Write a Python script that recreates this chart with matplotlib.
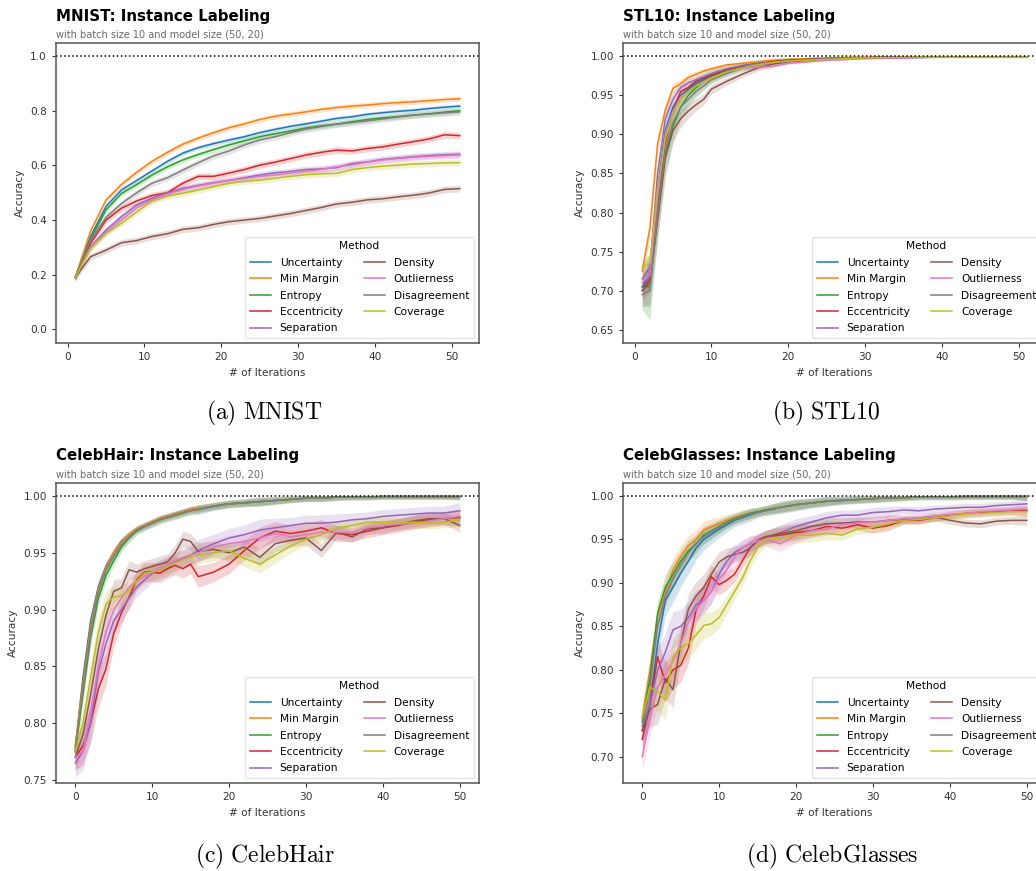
import numpy as np
import matplotlib
matplotlib.use('Agg')
import matplotlib.pyplot as plt

plt.rcParams['mathtext.fontset'] = 'cm'

methods = ['Uncertainty', 'Min Margin', 'Entropy', 'Eccentricity', 'Separation',
           'Density', 'Outlierness', 'Disagreement', 'Coverage']
colors = ['#1f77b4', '#ff7f0e', '#2ca02c', '#d62728', '#9467bd',
          '#8c564b', '#e377c2', '#7f7f7f', '#bcbd22']

# ---- MNIST ----
mnist_iter = [1, 3, 5, 7, 9, 11, 13, 15, 17, 19, 21, 23, 25, 27, 29, 31, 33, 35, 37, 39, 41, 43, 45, 47, 49, 51]
mnist_uncertainty = [0.19, 0.34, 0.45, 0.51, 0.545, 0.58, 0.615, 0.645, 0.665, 0.68, 0.693, 0.705, 0.72, 0.732, 0.743, 0.752, 0.762, 0.772, 0.778, 0.787, 0.793, 0.798, 0.802, 0.808, 0.813, 0.817]
mnist_min_margin = [0.19, 0.36, 0.473, 0.53, 0.575, 0.615, 0.648, 0.678, 0.70, 0.72, 0.738, 0.752, 0.768, 0.78, 0.788, 0.796, 0.805, 0.812, 0.817, 0.821, 0.826, 0.83, 0.833, 0.837, 0.841, 0.844]
mnist_entropy = [0.19, 0.33, 0.437, 0.497, 0.53, 0.565, 0.595, 0.62, 0.64, 0.658, 0.675, 0.69, 0.705, 0.716, 0.726, 0.737, 0.745, 0.751, 0.76, 0.768, 0.774, 0.779, 0.784, 0.789, 0.795, 0.80]
mnist_eccentricity = [0.19, 0.315, 0.40, 0.443, 0.47, 0.49, 0.50, 0.535, 0.56, 0.56, 0.572, 0.585, 0.601, 0.612, 0.625, 0.638, 0.648, 0.656, 0.653, 0.662, 0.668, 0.678, 0.687, 0.697, 0.712, 0.709]
mnist_separation = [0.19, 0.302, 0.363, 0.412, 0.455, 0.48, 0.50, 0.516, 0.527, 0.537, 0.545, 0.555, 0.565, 0.573, 0.578, 0.585, 0.587, 0.592, 0.607, 0.613, 0.622, 0.627, 0.632, 0.636, 0.639, 0.641]
mnist_density = [0.19, 0.266, 0.29, 0.317, 0.325, 0.34, 0.35, 0.366, 0.372, 0.384, 0.394, 0.40, 0.406, 0.415, 0.424, 0.435, 0.446, 0.459, 0.465, 0.474, 0.478, 0.485, 0.491, 0.499, 0.512, 0.515]
mnist_outlierness = [0.19, 0.30, 0.355, 0.40, 0.445, 0.475, 0.495, 0.512, 0.525, 0.535, 0.545, 0.552, 0.56, 0.565, 0.572, 0.578, 0.585, 0.595, 0.602, 0.612, 0.62, 0.625, 0.63, 0.633, 0.636, 0.638]
mnist_disagreement = [0.19, 0.327, 0.41, 0.46, 0.50, 0.535, 0.555, 0.583, 0.61, 0.635, 0.653, 0.675, 0.693, 0.705, 0.72, 0.733, 0.742, 0.751, 0.757, 0.763, 0.77, 0.777, 0.784, 0.788, 0.792, 0.796]
mnist_coverage = [0.19, 0.296, 0.351, 0.388, 0.43, 0.47, 0.488, 0.498, 0.51, 0.522, 0.535, 0.542, 0.546, 0.553, 0.56, 0.566, 0.569, 0.571, 0.585, 0.592, 0.597, 0.601, 0.605, 0.607, 0.609, 0.61]
mnist_spread = [0.008, 0.01, 0.01, 0.012, 0.012, 0.012, 0.012, 0.012, 0.012]

# ---- STL10 ----
stl_iter = [1, 2, 3, 4, 5, 6, 7, 8, 9, 10, 12, 14, 16, 18, 20, 25, 30, 35, 40, 45, 51]
stl_uncertainty = [0.705, 0.72, 0.83, 0.905, 0.935, 0.95, 0.958, 0.965, 0.97, 0.975, 0.982, 0.988, 0.991, 0.993, 0.995, 0.997, 0.998, 0.999, 0.999, 0.999, 0.999]
stl_min_margin = [0.725, 0.78, 0.888, 0.931, 0.959, 0.965, 0.973, 0.977, 0.981, 0.984, 0.989, 0.991, 0.993, 0.995, 0.996, 0.998, 0.999, 0.999, 0.999, 0.999, 0.999]
stl_entropy = [0.705, 0.705, 0.80, 0.875, 0.91, 0.935, 0.95, 0.96, 0.968, 0.975, 0.982, 0.987, 0.99, 0.993, 0.995, 0.997, 0.998, 0.999, 0.999, 0.999, 0.999]
stl_eccentricity = [0.70, 0.715, 0.81, 0.89, 0.93, 0.955, 0.96, 0.968, 0.972, 0.976, 0.983, 0.987, 0.99, 0.993, 0.995, 0.997, 0.998, 0.999, 0.999, 0.999, 0.999]
stl_separation = [0.715, 0.73, 0.85, 0.92, 0.945, 0.96, 0.966, 0.97, 0.974, 0.978, 0.984, 0.988, 0.99, 0.992, 0.994, 0.996, 0.998, 0.998, 0.999, 0.999, 0.999]
stl_density = [0.70, 0.71, 0.79, 0.87, 0.905, 0.92, 0.93, 0.938, 0.945, 0.958, 0.968, 0.977, 0.985, 0.99, 0.993, 0.996, 0.998, 0.999, 0.999, 0.999, 0.999]
stl_outlierness = [0.71, 0.72, 0.82, 0.90, 0.93, 0.948, 0.955, 0.962, 0.968, 0.972, 0.98, 0.985, 0.986, 0.987, 0.991, 0.995, 0.997, 0.998, 0.999, 0.999, 0.999]
stl_disagreement = [0.695, 0.70, 0.80, 0.88, 0.915, 0.935, 0.945, 0.955, 0.962, 0.97, 0.978, 0.985, 0.989, 0.992, 0.994, 0.997, 0.998, 0.999, 0.999, 0.999, 0.999]
stl_coverage = [0.73, 0.735, 0.83, 0.895, 0.925, 0.945, 0.955, 0.962, 0.967, 0.972, 0.98, 0.985, 0.989, 0.992, 0.994, 0.996, 0.998, 0.999, 0.999, 0.999, 0.999]
stl_spread = [0.012, 0.01, 0.03, 0.012, 0.012, 0.02, 0.012, 0.015, 0.01]
stl_shape = [1.0, 1.4, 1.2, 1.0, 0.7, 0.55, 0.45, 0.4, 0.35, 0.3, 0.25, 0.2, 0.2, 0.15, 0.12, 0.08, 0.05, 0.04, 0.03, 0.03, 0.03]

# ---- CelebHair / CelebGlasses share iterations ----
celeb_iter = [0, 1, 2, 3, 4, 5, 6, 7, 8, 9, 10, 11, 12, 13, 14, 15, 16,
              18, 20, 22, 24, 26, 28, 30, 32, 34, 36, 38, 40, 42, 44, 46, 48, 50]

hair_uncertainty = [0.778, 0.84, 0.89, 0.92, 0.938, 0.95, 0.96, 0.966, 0.971, 0.974, 0.977, 0.98, 0.982, 0.984, 0.986, 0.988, 0.989,
                    0.991, 0.993, 0.994, 0.995, 0.996, 0.997, 0.998, 0.998, 0.999, 0.999, 0.999, 0.9995, 0.9995, 0.9995, 0.9995, 0.9995, 0.9995]
hair_min_margin = [0.78, 0.835, 0.885, 0.918, 0.937, 0.95, 0.959, 0.966, 0.971, 0.974, 0.977, 0.98, 0.982, 0.984, 0.986, 0.988, 0.989,
                   0.991, 0.993, 0.994, 0.995, 0.996, 0.997, 0.998, 0.998, 0.999, 0.999, 0.999, 0.9995, 0.9995, 0.9995, 0.9995, 0.9995, 0.9995]
hair_entropy = [0.775, 0.825, 0.875, 0.91, 0.93, 0.943, 0.955, 0.963, 0.969, 0.973, 0.976, 0.979, 0.981, 0.983, 0.985, 0.987, 0.988,
                0.991, 0.993, 0.994, 0.995, 0.996, 0.997, 0.998, 0.998, 0.999, 0.999, 0.999, 0.9995, 0.9995, 0.9995, 0.9995, 0.9995, 0.9995]
hair_eccentricity = [0.77, 0.78, 0.80, 0.83, 0.848, 0.879, 0.897, 0.911, 0.926, 0.933, 0.933, 0.932, 0.936, 0.939, 0.936, 0.94, 0.929,
                     0.933, 0.94, 0.952, 0.963, 0.969, 0.967, 0.969, 0.972, 0.967, 0.966, 0.969, 0.972, 0.974, 0.977, 0.979, 0.98, 0.981]
hair_separation = [0.765, 0.775, 0.80, 0.845, 0.87, 0.89, 0.90, 0.91, 0.92, 0.926, 0.932, 0.935, 0.938, 0.942, 0.945, 0.948, 0.952,
                   0.958, 0.963, 0.966, 0.97, 0.972, 0.974, 0.976, 0.976, 0.977, 0.979, 0.98, 0.982, 0.983, 0.984, 0.985, 0.985, 0.987]
hair_density = [0.77, 0.79, 0.825, 0.865, 0.895, 0.916, 0.919, 0.935, 0.933, 0.936, 0.938, 0.94, 0.942, 0.95, 0.962, 0.96, 0.951,
                0.953, 0.95, 0.955, 0.946, 0.958, 0.961, 0.963, 0.952, 0.968, 0.964, 0.971, 0.972, 0.975, 0.978, 0.98, 0.98, 0.974]
hair_outlierness = [0.77, 0.775, 0.81, 0.85, 0.88, 0.90, 0.91, 0.92, 0.925, 0.929, 0.933, 0.937, 0.94, 0.943, 0.946, 0.948, 0.95,
                    0.955, 0.958, 0.96, 0.963, 0.967, 0.964, 0.966, 0.968, 0.968, 0.968, 0.972, 0.974, 0.975, 0.976, 0.978, 0.98, 0.982]
hair_disagreement = [0.775, 0.83, 0.88, 0.915, 0.935, 0.947, 0.957, 0.964, 0.97, 0.973, 0.976, 0.979, 0.981, 0.983, 0.985, 0.987, 0.988,
                     0.991, 0.993, 0.994, 0.995, 0.996, 0.997, 0.998, 0.998, 0.999, 0.999, 0.999, 0.9995, 0.9995, 0.9995, 0.9995, 0.9995, 0.9995]
hair_coverage = [0.775, 0.80, 0.84, 0.88, 0.905, 0.911, 0.912, 0.917, 0.925, 0.932, 0.933, 0.935, 0.938, 0.941, 0.944, 0.946, 0.948,
                 0.95, 0.952, 0.945, 0.94, 0.948, 0.956, 0.962, 0.966, 0.972, 0.974, 0.977, 0.977, 0.976, 0.977, 0.976, 0.977, 0.979]
hair_spread = [0.004, 0.004, 0.005, 0.012, 0.012, 0.01, 0.01, 0.005, 0.01]
hair_shape = [1.0, 1.3, 1.4, 1.4, 1.2, 1.0, 0.9, 0.8, 0.7, 0.7, 0.7, 0.7, 0.7, 0.7, 0.7, 0.7, 0.8,
              0.7, 0.7, 0.7, 0.8, 0.7, 0.6, 0.6, 0.6, 0.6, 0.5, 0.5, 0.5, 0.5, 0.5, 0.5, 0.5, 0.6]

glass_uncertainty = [0.73, 0.76, 0.83, 0.88, 0.895, 0.911, 0.925, 0.94, 0.95, 0.956, 0.962, 0.967, 0.972, 0.975, 0.978, 0.981, 0.983,
                     0.987, 0.99, 0.992, 0.994, 0.995, 0.996, 0.997, 0.998, 0.998, 0.999, 0.999, 0.999, 0.9995, 0.9995, 0.9995, 0.9995, 0.9995]
glass_min_margin = [0.745, 0.80, 0.861, 0.89, 0.915, 0.93, 0.943, 0.95, 0.961, 0.965, 0.968, 0.972, 0.975, 0.978, 0.98, 0.982, 0.984,
                    0.987, 0.99, 0.992, 0.994, 0.995, 0.996, 0.997, 0.998, 0.998, 0.999, 0.999, 0.999, 0.9995, 0.9995, 0.9995, 0.9995, 0.9995]
glass_entropy = [0.74, 0.79, 0.865, 0.895, 0.91, 0.925, 0.937, 0.945, 0.955, 0.96, 0.965, 0.97, 0.974, 0.977, 0.98, 0.982, 0.984,
                 0.987, 0.99, 0.992, 0.994, 0.995, 0.996, 0.997, 0.998, 0.998, 0.999, 0.999, 0.999, 0.9995, 0.9995, 0.9995, 0.9995, 0.9995]
glass_eccentricity = [0.72, 0.76, 0.815, 0.785, 0.80, 0.805, 0.825, 0.869, 0.885, 0.907, 0.898, 0.903, 0.91, 0.925, 0.94, 0.949, 0.953,
                      0.955, 0.958, 0.96, 0.965, 0.963, 0.967, 0.963, 0.966, 0.972, 0.972, 0.975, 0.978, 0.98, 0.981, 0.982, 0.983, 0.983]
glass_separation = [0.73, 0.76, 0.80, 0.82, 0.846, 0.85, 0.86, 0.875, 0.88, 0.89, 0.91, 0.925, 0.935, 0.94, 0.945, 0.948, 0.952,
                    0.958, 0.965, 0.97, 0.975, 0.978, 0.978, 0.981, 0.982, 0.984, 0.983, 0.985, 0.986, 0.987, 0.987, 0.989, 0.99, 0.991]
glass_density = [0.73, 0.755, 0.76, 0.79, 0.777, 0.83, 0.87, 0.885, 0.895, 0.91, 0.924, 0.93, 0.933, 0.935, 0.94, 0.948, 0.953,
                 0.957, 0.96, 0.965, 0.968, 0.969, 0.97, 0.97, 0.972, 0.973, 0.973, 0.976, 0.972, 0.969, 0.968, 0.971, 0.972, 0.972]
glass_outlierness = [0.70, 0.745, 0.78, 0.795, 0.81, 0.83, 0.855, 0.87, 0.88, 0.89, 0.905, 0.915, 0.93, 0.94, 0.945, 0.948, 0.95,
                     0.945, 0.955, 0.96, 0.962, 0.967, 0.969, 0.97, 0.972, 0.974, 0.975, 0.977, 0.979, 0.98, 0.982, 0.983, 0.984, 0.985]
glass_disagreement = [0.735, 0.78, 0.85, 0.885, 0.905, 0.92, 0.935, 0.945, 0.953, 0.959, 0.964, 0.969, 0.973, 0.976, 0.979, 0.981, 0.983,
                      0.987, 0.99, 0.992, 0.994, 0.995, 0.996, 0.997, 0.998, 0.998, 0.999, 0.999, 0.999, 0.9995, 0.9995, 0.9995, 0.9995, 0.9995]
glass_coverage = [0.745, 0.78, 0.775, 0.765, 0.815, 0.825, 0.83, 0.84, 0.851, 0.853, 0.86, 0.875, 0.89, 0.905, 0.925, 0.94, 0.95,
                  0.952, 0.955, 0.955, 0.957, 0.955, 0.962, 0.964, 0.968, 0.972, 0.973, 0.975, 0.977, 0.979, 0.98, 0.981, 0.982, 0.982]
glass_spread = [0.012, 0.01, 0.01, 0.015, 0.015, 0.015, 0.015, 0.008, 0.015]
glass_shape = [1.0, 1.4, 1.5, 1.5, 1.4, 1.3, 1.2, 1.1, 1.0, 0.9, 0.8, 0.7, 0.6, 0.6, 0.6, 0.5, 0.5,
               0.6, 0.6, 0.5, 0.5, 0.4, 0.4, 0.4, 0.4, 0.3, 0.3, 0.3, 0.3, 0.3, 0.3, 0.3, 0.3, 0.4]


def draw_panel(ax, title, iters, series, spread, shape, ylim, yticks):
    x = np.array(iters)
    sh = np.ones(len(x)) if shape is None else np.array(shape)
    for name, col, vals, s in zip(methods, colors, series, spread):
        y = np.array(vals)
        ax.fill_between(x, y - s * sh, np.minimum(y + s * sh, 1.0005), color=col, alpha=0.2, lw=0)
        ax.plot(x, y, color=col, lw=1.1, label=name)
    ax.axhline(1.0, color='black', ls=':', lw=1.1)
    ax.set_xlim(-1.5 if x[0] == 1 else -2.5, 53.5 if x[0] == 1 else 52.5)
    ax.set_ylim(*ylim)
    ax.set_yticks(yticks)
    ax.set_xticks([0, 10, 20, 30, 40, 50])
    ax.tick_params(labelsize=7.6, colors='#333333', width=0.8, length=3)
    for sp in ax.spines.values():
        sp.set_color('#555555')
        sp.set_linewidth(1.1)
    ax.set_xlabel('# of Iterations', fontsize=7.6, color='#333333')
    ax.set_ylabel('Accuracy', fontsize=7.6, color='#333333')
    ax.text(0, 1.09, title, transform=ax.transAxes, fontsize=10.8,
            fontweight='bold', va='center', ha='left')
    ax.text(0, 1.027, 'with batch size 10 and model size (50, 20)', transform=ax.transAxes,
            fontsize=7, color='#666666', va='center', ha='left')
    leg = ax.legend(title='Method', ncol=2, loc='lower right', fontsize=7.7,
                    title_fontsize=7.7, labelspacing=0.6, frameon=True)
    leg.get_frame().set_edgecolor('#dddddd')


W, H = 1036, 871
fig = plt.figure(figsize=(W / 100, H / 100), dpi=100)

ax_a = fig.add_axes([56 / W, 1 - 343 / H, 423 / W, 300 / H])
ax_b = fig.add_axes([623 / W, 1 - 343 / H, 423 / W, 300 / H])
ax_c = fig.add_axes([56 / W, 1 - 783 / H, 423 / W, 300 / H])
ax_d = fig.add_axes([623 / W, 1 - 783 / H, 423 / W, 300 / H])

draw_panel(ax_a, 'MNIST: Instance Labeling', mnist_iter,
           [mnist_uncertainty, mnist_min_margin, mnist_entropy, mnist_eccentricity, mnist_separation,
            mnist_density, mnist_outlierness, mnist_disagreement, mnist_coverage],
           mnist_spread, None, (-0.05, 1.048), [0.0, 0.2, 0.4, 0.6, 0.8, 1.0])
draw_panel(ax_b, 'STL10: Instance Labeling', stl_iter,
           [stl_uncertainty, stl_min_margin, stl_entropy, stl_eccentricity, stl_separation,
            stl_density, stl_outlierness, stl_disagreement, stl_coverage],
           stl_spread, stl_shape, (0.633, 1.017), [0.65, 0.70, 0.75, 0.80, 0.85, 0.90, 0.95, 1.00])
draw_panel(ax_c, 'CelebHair: Instance Labeling', celeb_iter,
           [hair_uncertainty, hair_min_margin, hair_entropy, hair_eccentricity, hair_separation,
            hair_density, hair_outlierness, hair_disagreement, hair_coverage],
           hair_spread, hair_shape, (0.7474, 1.0114), [0.75, 0.80, 0.85, 0.90, 0.95, 1.00])
draw_panel(ax_d, 'CelebGlasses: Instance Labeling', celeb_iter,
           [glass_uncertainty, glass_min_margin, glass_entropy, glass_eccentricity, glass_separation,
            glass_density, glass_outlierness, glass_disagreement, glass_coverage],
           glass_spread, glass_shape, (0.6697, 1.015), [0.70, 0.75, 0.80, 0.85, 0.90, 0.95, 1.00])

# sub-figure captions
fig.text(264 / W, 1 - 413 / H, r'$\mathrm{(a)\ MNIST}$', fontsize=17, ha='center', va='center')
fig.text(826 / W, 1 - 413 / H, r'$\mathrm{(b)\ STL10}$', fontsize=17, ha='center', va='center')
fig.text(265 / W, 1 - 856 / H, r'$\mathrm{(c)\ CelebHair}$', fontsize=17, ha='center', va='center')
fig.text(832 / W, 1 - 856 / H, r'$\mathrm{(d)\ CelebGlasses}$', fontsize=17, ha='center', va='center')

fig.savefig('out.png', dpi=100)
